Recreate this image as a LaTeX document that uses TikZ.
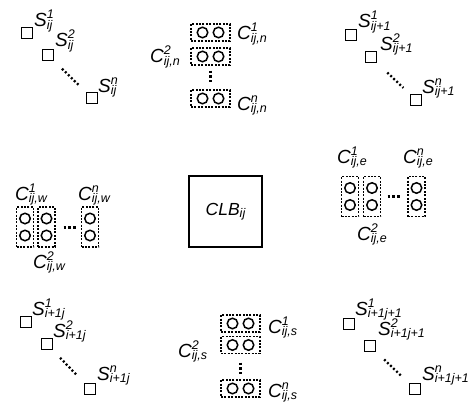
\documentclass[tikz,border=0pt]{standalone}
\usepackage{fontspec}
\setmainfont{Liberation Sans}
% base letter with a stacked superscript and subscript
\newcommand{\lbl}[3]{#1\rlap{\raisebox{8pt}{\fontsize{12.5}{12.5}\selectfont #2}}\raisebox{-2.5pt}{\fontsize{12.5}{12.5}\selectfont #3}}
\begin{document}
\begin{tikzpicture}[x=1pt,y=-1pt,
  switchsq/.style={draw, line width=1.3pt, minimum size=11pt, inner sep=0pt},
  lab/.style={anchor=base west, inner sep=0pt, font=\fontsize{19}{19}\selectfont\itshape},
  dotrun/.style={line width=2.3pt, dash pattern=on 2pt off 2.2pt},
  pairbox/.style={draw, line width=1.1pt, dash pattern=on 2pt off 1.4pt, inner sep=0pt},
  hbox/.style={pairbox, minimum width=39pt, minimum height=17pt},
  vbox/.style={pairbox, minimum width=17pt, minimum height=40pt},
  pin/.style={circle, draw, line width=1.5pt, minimum size=10.5pt, inner sep=0pt},
  ellip/.style={line width=3pt, dash pattern=on 2.8pt off 2pt}]
\useasboundingbox (0,0) rectangle (473,404);

% ---- switch groups in the four corners ----
\node[switchsq] (tl1) at (27,33) {};
\node[switchsq] (tl2) at (48,55) {};
\node[switchsq] (tl3) at (92,98) {};
\draw[dotrun, shorten <=11pt, shorten >=9pt] (tl2) -- (tl3);
\node[lab] (ltl1) at (34,27) {\lbl{S}{1}{ij}};
\node[lab] (ltl2) at (55,47) {\lbl{S}{2}{ij}};
\node[lab] (ltl3) at (98,92) {\lbl{S}{n}{ij}};

\node[switchsq] (tr1) at (351,35) {};
\node[switchsq] (tr2) at (371,57) {};
\node[switchsq] (tr3) at (416,100) {};
\draw[dotrun, shorten <=14pt, shorten >=9pt] (tr2) -- (tr3);
\node[lab] (ltr1) at (358,28) {\lbl{S}{1}{ij+1}};
\node[lab] (ltr2) at (380,50) {\lbl{S}{2}{ij+1}};
\node[lab] (ltr3) at (422,93) {\lbl{S}{n}{ij+1}};

\node[switchsq] (bl1) at (26,322) {};
\node[switchsq] (bl2) at (47,344) {};
\node[switchsq] (bl3) at (90,389) {};
\draw[dotrun, shorten <=10.5pt, shorten >=10pt] (bl2) -- (bl3);
\node[lab] (lbl1) at (32,315) {\lbl{S}{1}{i+1j}};
\node[lab] (lbl2) at (53,337) {\lbl{S}{2}{i+1j}};
\node[lab] (lbl3) at (97,380) {\lbl{S}{n}{i+1j}};

\node[switchsq] (br1) at (349,324) {};
\node[switchsq] (br2) at (370,346) {};
\node[switchsq] (br3) at (415,389) {};
\draw[dotrun, shorten <=11pt, shorten >=10pt] (br2) -- (br3);
\node[lab] (lbr1) at (355,315) {\lbl{S}{1}{i+1j+1}};
\node[lab] (lbr2) at (378,335) {\lbl{S}{2}{i+1j+1}};
\node[lab] (lbr3) at (422,380) {\lbl{S}{n}{i+1j+1}};

% ---- connection boxes: north and south ----
\node[hbox] (n1) at (210.5,32.5) {};
\node[hbox] (n2) at (210.5,56.5) {};
\node[hbox] (n3) at (210.5,98.5) {};
\node[hbox] (s1) at (240.5,323.5) {};
\node[hbox] (s2) at (240.5,345) {};
\node[hbox] (s3) at (240.5,388.5) {};
\foreach \b in {n1,n2,n3,s1,s2,s3}{
  \node[pin] (\b a) at ([xshift=-8pt]\b.center) {};
  \node[pin] (\b b) at ([xshift=8pt]\b.center) {};
}
\draw[ellip, shorten <=5pt, shorten >=7pt] (n2) -- (n3);
\draw[ellip, shorten <=8.5pt, shorten >=5pt] (s2) -- (s3);
\node[lab] (ln1) at (237,40) {\lbl{C}{1}{ij,n}};
\node[lab] (ln2) at (150,63) {\lbl{C}{2}{ij,n}};
\node[lab] (ln3) at (237,110) {\lbl{C}{n}{ij,n}};
\node[lab] (ls1) at (268,333) {\lbl{C}{1}{ij,s}};
\node[lab] (ls2) at (178,357) {\lbl{C}{2}{ij,s}};
\node[lab] (ls3) at (268,397) {\lbl{C}{n}{ij,s}};

% ---- connection boxes: west and east ----
\node[vbox] (w1) at (25,227) {};
\node[vbox] (w2) at (46.5,227) {};
\node[vbox] (w3) at (90,227) {};
\node[vbox] (e1) at (350,196.5) {};
\node[vbox] (e2) at (372,196.5) {};
\node[vbox] (e3) at (416.5,196.5) {};
\foreach \b in {w1,w2,w3,e1,e2,e3}{
  \node[pin] (\b a) at ([yshift=8.5pt]\b.center) {};
  \node[pin] (\b b) at ([yshift=-8.5pt]\b.center) {};
}
\draw[ellip, shorten <=8pt, shorten >=4.5pt] (w2) -- (w3);
\draw[ellip, shorten <=6.5pt, shorten >=6pt] (e2) -- (e3);
\node[lab] (lw1) at (15,200) {\lbl{C}{1}{ij,w}};
\node[lab] (lw2) at (33,268) {\lbl{C}{2}{ij,w}};
\node[lab] (lw3) at (78,200) {\lbl{C}{n}{ij,w}};
\node[lab] (le1) at (337,163) {\lbl{C}{1}{ij,e}};
\node[lab] (le2) at (357,240) {\lbl{C}{2}{ij,e}};
\node[lab] (le3) at (403,163) {\lbl{C}{n}{ij,e}};

% ---- logic block ----
\node[draw, line width=1.1pt, minimum width=73pt, minimum height=71pt, inner sep=0pt,
      font=\fontsize{17.5}{17.5}\selectfont\itshape] (clb) at (225.5,211.5)
      {CLB\raisebox{-2.5pt}{\fontsize{12.5}{12.5}\selectfont ij}};
\end{tikzpicture}
\end{document}
